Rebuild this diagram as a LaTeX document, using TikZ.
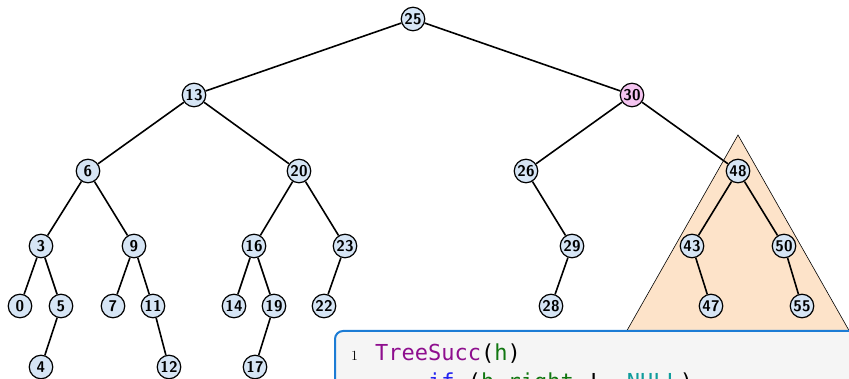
\documentclass[tikz,border=0pt]{standalone}
\usepackage{fontspec}
\newfontfamily\codefont{DejaVu Sans Mono}
\definecolor{keyFill}{HTML}{D6E5F5}
\definecolor{succFill}{HTML}{F4C4F0}
\definecolor{subtreeFill}{HTML}{FDE3C9}
\definecolor{codeBorder}{HTML}{1C7CD5}
\definecolor{codeBg}{HTML}{F5F5F5}
\definecolor{codeFunc}{HTML}{8E0E8E}
\definecolor{codeKeyword}{HTML}{2323F0}
\definecolor{codeVar}{HTML}{117711}
\definecolor{codeConst}{HTML}{109C9C}
\usetikzlibrary{positioning}
\tikzset{
  keynode/.style={circle, draw=black, line width=1.2pt, fill=keyFill,
    minimum size=23.5pt, inner sep=0pt,
    font={\sffamily\bfseries\fontsize{15.5}{15.5}\selectfont}},
  treeedge/.style={line width=1.6pt},
  lineno/.style={anchor=base west, inner sep=0pt, font={\rmfamily\fontsize{14}{14}\selectfont}},
  codeline/.style={anchor=base west, inner sep=0pt, font={\codefont\fontsize{22}{26}\selectfont}}
}
\begin{document}
\begin{tikzpicture}[x=1pt, y=-1pt]
  \useasboundingbox (0,0) rectangle (849,379);
  \clip (0,0) rectangle (849,379);
  % subtree below 48
  \filldraw[fill=subtreeFill, draw=black, line width=0.6pt]
    (738,135) -- (625,334) -- (851,334) -- cycle;
  % keys
  \foreach \k/\x/\y in {25/413/19, 13/194/95, 6/88/171, 20/299/171,
      26/526/171, 48/738/171, 3/41/246, 9/134/246, 16/254/246, 23/345/246,
      29/572/246, 43/692/246, 50/784/246, 0/20/306, 5/61/306, 7/113/306,
      11/153/306, 14/234/306, 19/274/306, 22/324/306, 28/551/306,
      47/711/306, 55/802/306, 4/41/367, 12/169/367, 17/255/367}
    \node[keynode] (n\k) at (\x,\y) {\k};
  \node[keynode, fill=succFill] (n30) at (632,95) {30};
  % edges
  \foreach \a/\b in {25/13, 25/30, 13/6, 13/20, 30/26, 30/48, 6/3, 6/9,
      20/16, 20/23, 26/29, 48/43, 48/50, 3/0, 3/5, 9/7, 9/11, 16/14,
      16/19, 23/22, 29/28, 43/47, 50/55, 5/4, 11/12, 19/17}
    \draw[treeedge] (n\a) -- (n\b);
  % code listing
  \filldraw[fill=codeBg, draw=codeBorder, line width=2pt, rounded corners=8pt]
    (335,331) rectangle (900,440);
  \node[lineno] (numA) at (351,360) {1};
  \node[codeline] (lineA) at (375,360)
    {{\color{codeFunc}TreeSucc}({\color{codeVar}h})};
  \node[lineno] (numB) at (351,389) {2};
  \node[codeline] (lineB) at (375,389)
    {\phantom{xxxx}{\color{codeKeyword}if} ({\color{codeVar}h.right} != {\color{codeConst}NULL})};
\end{tikzpicture}
\end{document}
